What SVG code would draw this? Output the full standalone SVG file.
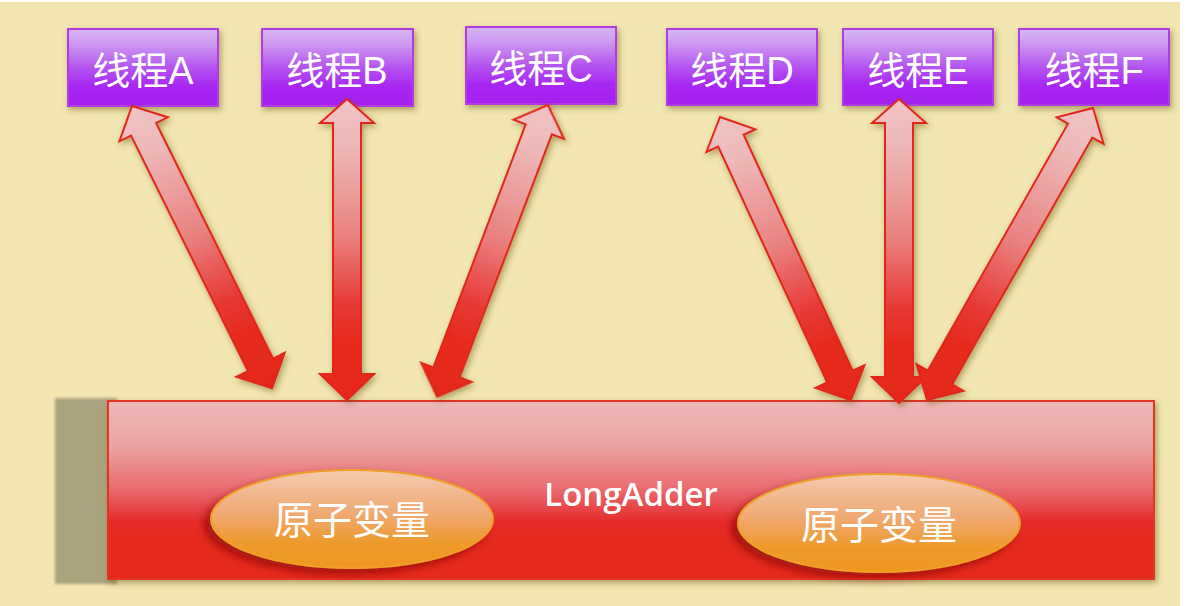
<svg xmlns="http://www.w3.org/2000/svg" width="1192" height="606" viewBox="0 0 1192 606">
  <defs>
    <linearGradient id="gBox" x1="0" y1="0" x2="0" y2="1">
      <stop offset="0" stop-color="#d6b6f2"/>
      <stop offset="0.2" stop-color="#cc98f0"/>
      <stop offset="0.5" stop-color="#b454f0"/>
      <stop offset="0.75" stop-color="#a826f2"/>
      <stop offset="1" stop-color="#a620f0"/>
    </linearGradient>
    <linearGradient id="gRect" x1="0" y1="0" x2="0" y2="1">
      <stop offset="0" stop-color="#eeb9ba"/>
      <stop offset="0.25" stop-color="#eca2a4"/>
      <stop offset="0.5" stop-color="#e86a6e"/>
      <stop offset="0.68" stop-color="#e62a2a"/>
      <stop offset="0.8" stop-color="#e52b1c"/>
      <stop offset="1" stop-color="#e52a1a"/>
    </linearGradient>
    <linearGradient id="gEll" x1="0" y1="0" x2="0" y2="1">
      <stop offset="0" stop-color="#f4cbb2"/>
      <stop offset="0.45" stop-color="#efa870"/>
      <stop offset="0.75" stop-color="#ee9a2c"/>
      <stop offset="1" stop-color="#ee9722"/>
    </linearGradient>
    <linearGradient id="gArrow" x1="0" y1="0" x2="0" y2="1">
      <stop offset="0" stop-color="#f0c4c4"/>
      <stop offset="0.15" stop-color="#eeb8b8"/>
      <stop offset="0.45" stop-color="#ea8282"/>
      <stop offset="0.68" stop-color="#e73a38"/>
      <stop offset="0.8" stop-color="#e62b1e"/>
      <stop offset="1" stop-color="#e5281a"/>
    </linearGradient>
    <filter id="shadow" x="-20%" y="-20%" width="140%" height="140%">
      <feGaussianBlur in="SourceAlpha" stdDeviation="3"/>
      <feOffset dx="2" dy="3" result="b"/>
      <feFlood flood-color="#5a4a10" flood-opacity="0.45"/>
      <feComposite in2="b" operator="in"/>
      <feMerge><feMergeNode/><feMergeNode in="SourceGraphic"/></feMerge>
    </filter>
    <filter id="ellShadow" x="-20%" y="-30%" width="140%" height="160%">
      <feGaussianBlur in="SourceAlpha" stdDeviation="4"/>
      <feOffset dx="-6" dy="5" result="b"/>
      <feFlood flood-color="#8a0c0c" flood-opacity="0.7"/>
      <feComposite in2="b" operator="in"/>
      <feMerge><feMergeNode/><feMergeNode in="SourceGraphic"/></feMerge>
    </filter>
    <filter id="soft" x="-10%" y="-10%" width="120%" height="120%">
      <feGaussianBlur stdDeviation="1.5"/>
    </filter>
  </defs>
  <style>
    .box { fill: url(#gBox); stroke: #b13ce2; stroke-width: 2; }
    .boxText { font-family: "Liberation Sans", "Noto Sans CJK SC", sans-serif; font-size: 38px; fill: #ffffff; text-anchor: middle; }
    .arrow { fill: url(#gArrow); stroke: #e2261c; stroke-width: 2; stroke-linejoin: miter; }
    .ell { fill: url(#gEll); stroke: #f0a028; stroke-width: 2; }
    .ellText { font-family: "Noto Sans CJK SC", sans-serif; font-size: 39px; fill: #ffffff; text-anchor: middle; }
    .mainText { font-family: "Open Sans", "Liberation Sans", sans-serif; font-size: 33px; font-weight: 600; fill: #ffffff; text-anchor: middle; }
  </style>

  <rect x="0" y="0" width="1192" height="606" fill="#ffffff"/>
  <rect x="0" y="2" width="1180" height="604" fill="#f2e6b2"/>

  <g id="longadder">
    <rect x="55" y="398" width="62" height="186" fill="#aaa47e" filter="url(#soft)"/>
    <rect x="108" y="401" width="1046" height="178" fill="url(#gRect)" stroke="#e23424" stroke-width="2" filter="url(#shadow)"/>
    <text class="mainText" x="631" y="506">LongAdder</text>
  </g>

  <g id="atom1">
    <ellipse cx="352" cy="519" rx="141" ry="49" class="ell" filter="url(#ellShadow)"/>
    <text class="ellText" x="352" y="534">原子变量</text>
  </g>
  <g id="atom2">
    <ellipse cx="879" cy="523" rx="141" ry="49" class="ell" filter="url(#ellShadow)"/>
    <text class="ellText" x="879" y="539">原子变量</text>
  </g>

  <g id="threadA">
    <rect x="68" y="29" width="150" height="77" class="box" filter="url(#shadow)"/>
    <text class="boxText" x="143" y="84">线程A</text>
  </g>
  <g id="threadB">
    <rect x="262" y="29" width="151" height="77" class="box" filter="url(#shadow)"/>
    <text class="boxText" x="337" y="84">线程B</text>
  </g>
  <g id="threadC">
    <rect x="466" y="27" width="150" height="77" class="box" filter="url(#shadow)"/>
    <text class="boxText" x="541" y="82">线程C</text>
  </g>
  <g id="threadD">
    <rect x="667" y="29" width="150" height="76" class="box" filter="url(#shadow)"/>
    <text class="boxText" x="742" y="84">线程D</text>
  </g>
  <g id="threadE">
    <rect x="843" y="29" width="150" height="76" class="box" filter="url(#shadow)"/>
    <text class="boxText" x="918" y="84">线程E</text>
  </g>
  <g id="threadF">
    <rect x="1019" y="29" width="150" height="76" class="box" filter="url(#shadow)"/>
    <text class="boxText" x="1094" y="84">线程F</text>
  </g>

  <g id="connectors" filter="url(#shadow)">
    <polygon class="arrow" transform="translate(132,106) rotate(-26.4)" points="0,0 27,26 14,26 14,289 27,289 0,315 -27,289 -14,289 -14,26 -27,26"/>
    <polygon class="arrow" transform="translate(347,99)" points="0,0 27,24 14,24 14,275 27,275 0,301 -27,275 -14,275 -14,24 -27,24"/>
    <polygon class="arrow" transform="translate(548,105) rotate(20.8)" points="0,0 27,26 14,26 14,286 27,286 0,312 -27,286 -14,286 -14,26 -27,26"/>
    <polygon class="arrow" transform="translate(720,117) rotate(-24.8)" points="0,0 27,26 14,26 14,286 27,286 0,312 -27,286 -14,286 -14,26 -27,26"/>
    <polygon class="arrow" transform="translate(899,99)" points="0,0 27,24 14,24 14,278 27,278 0,304 -27,278 -14,278 -14,24 -27,24"/>
    <polygon class="arrow" transform="translate(1093,108) rotate(29.6)" points="0,0 27,26 14,26 14,310 27,310 0,336 -27,310 -14,310 -14,26 -27,26"/>
  </g>
</svg>
